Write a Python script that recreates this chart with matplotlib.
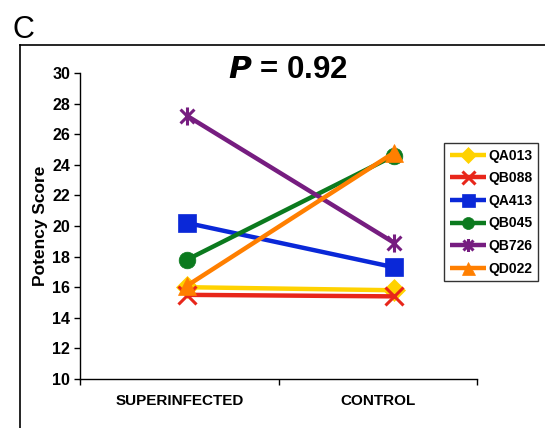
import matplotlib
matplotlib.use("Agg")
import matplotlib.pyplot as plt
from matplotlib.path import Path
from matplotlib.lines import Line2D

plt.rcParams['font.family'] = ['Liberation Sans', 'DejaVu Sans']

groups = ["SUPERINFECTED", "CONTROL"]
names = ["QA013", "QB088", "QA413", "QB045", "QB726", "QD022"]
superinfected = [16.0, 15.5, 20.2, 17.8, 27.2, 16.1]
control = [15.8, 15.4, 17.3, 24.6, 18.9, 24.8]

colors = ["#FFD200", "#E8261A", "#0A28D8", "#0B7A1E", "#761D80", "#FF7F00"]

# Excel-style star: an X with a vertical bar through it
star = Path([(-1, -1), (1, 1), (-1, 1), (1, -1), (0, -1.3), (0, 1.3)],
            [Path.MOVETO, Path.LINETO, Path.MOVETO, Path.LINETO, Path.MOVETO, Path.LINETO])
markers = ["D", "x", "s", "o", star, "^"]
msizes = [11, 13, 13, 12, 13, 13]

fig = plt.figure(figsize=(5.45, 4.28), dpi=100)

# panel frame and letter
fig.add_artist(Line2D([20 / 545, 20 / 545], [0, 1 - 45 / 428], color="black", lw=1.2))
fig.add_artist(Line2D([20 / 545, 1], [1 - 45 / 428, 1 - 45 / 428], color="black", lw=1.2))
fig.text(13 / 545, 1 - 30 / 428, "C", fontsize=22, va="center", ha="left")

ax = fig.add_axes([80 / 545, 1 - 379 / 428, 397 / 545, 306 / 428])

x = [0, 1]
for i, name in enumerate(names):
    is_line_marker = markers[i] in ("x",) or markers[i] is star
    ax.plot(x, [superinfected[i], control[i]], color=colors[i], lw=3.2,
            marker=markers[i], markersize=msizes[i],
            markeredgewidth=2.2 if is_line_marker else 0.5,
            markerfacecolor=colors[i], markeredgecolor=colors[i],
            label=name, solid_capstyle="butt", clip_on=False)

ax.set_xlim(-0.517, 1.40)
ax.set_ylim(10, 30)
ax.set_yticks(range(10, 31, 2))
ax.tick_params(axis="y", direction="out", length=4, width=1, labelsize=11.5, pad=3)
for lab in ax.get_yticklabels():
    lab.set_fontweight("bold")

ax.set_xticks([-0.517, 0.444, 1.40])
ax.set_xticklabels([])
ax.tick_params(axis="x", which="major", direction="out", length=4, width=1)
ax.set_xticks([-0.034, 0.923], minor=True)
ax.set_xticklabels(groups, minor=True, fontsize=11, fontweight="bold")
ax.tick_params(axis="x", which="minor", length=0, pad=11)

ax.spines["top"].set_visible(False)
ax.spines["right"].set_visible(False)
ax.spines["left"].set_linewidth(1)
ax.spines["bottom"].set_linewidth(1)

ax.set_ylabel("Potency Score", fontsize=12.5, fontweight="bold", labelpad=3)

ax.text(0.524, 1.01, "$\\bfit{P}$ = 0.92", transform=ax.transAxes, ha="center", va="center",
        fontsize=22.5, fontweight="bold")

leg = ax.legend(loc="upper left", bbox_to_anchor=(444 / 545, 1 - 143 / 428),
                bbox_transform=fig.transFigure, frameon=True, fancybox=False,
                edgecolor="black", borderpad=0.4, labelspacing=0.62,
                handlelength=2.6, handletextpad=0.2, borderaxespad=0,
                prop={"weight": "bold", "size": 10}, markerscale=0.72)
leg.get_frame().set_linewidth(1)

fig.savefig("out.png", dpi=100)
